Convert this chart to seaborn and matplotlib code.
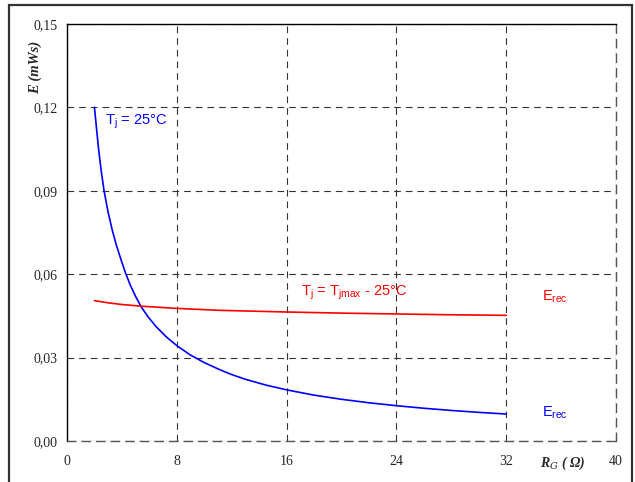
import numpy as np
import pandas as pd
import seaborn as sns
import matplotlib
matplotlib.use("Agg")
import matplotlib.pyplot as plt
from matplotlib.patches import Rectangle

# values
rg_25 = [2.0, 2.3, 2.5, 2.7, 3.0, 3.3, 3.6, 3.93, 4.23, 4.6, 5.0, 5.39, 5.9, 6.5, 7.2, 8.0, 9.0, 10.0,
         11.15, 12.0, 13.0, 14.5, 16.0, 18.0, 20.0, 22.0, 24.0, 26.0, 28.0, 30.0, 32.0]
e_25 = [0.1200, 0.1050, 0.0969, 0.0900, 0.0822, 0.0758, 0.0704, 0.0653, 0.0609, 0.0562, 0.0520, 0.0484,
        0.0447, 0.0411, 0.0376, 0.0343, 0.0309, 0.0282, 0.0256, 0.0239, 0.0222, 0.0201, 0.0184, 0.0165,
        0.0150, 0.01375, 0.0127, 0.01178, 0.01099, 0.0103, 0.0097]
rg_hot = [2.0, 3.0, 4.0, 5.39, 8.0, 11.15, 16.0, 20.0, 24.0, 28.0, 32.0]
e_hot = [0.0505, 0.0497, 0.0491, 0.0485, 0.0477, 0.0470, 0.0464, 0.0460, 0.0457, 0.0454, 0.0452]

x_ticks = [0, 8, 16, 24, 32, 40]
y_ticks = [0.00, 0.03, 0.06, 0.09, 0.12, 0.15]
y_labels = ["0,00", "0,03", "0,06", "0,09", "0,12", "0,15"]

df = pd.concat([
    pd.DataFrame({"rg": rg_25, "e": e_25, "curve": "Tj = 25C"}),
    pd.DataFrame({"rg": rg_hot, "e": e_hot, "curve": "Tj = Tjmax - 25C"}),
])

sns.set_style("white")
plt.rcParams["font.family"] = ["Liberation Sans", "DejaVu Sans"]
plt.rcParams["mathtext.fontset"] = "custom"
plt.rcParams["mathtext.rm"] = "Liberation Sans"
plt.rcParams["mathtext.it"] = "Liberation Sans:italic"

fig = plt.figure(figsize=(6.35, 4.82), dpi=100)
ax = fig.add_axes([67 / 635, 1 - 441 / 482, (616 - 67) / 635, (441 - 24) / 482])

sns.lineplot(data=df, x="rg", y="e", hue="curve", palette=["#0000ff", "#ff0000"],
             linewidth=1.2, legend=False, ax=ax, sort=False, zorder=3)

ax.set_xlim(0, 40)
ax.set_ylim(0, 0.15)
ax.set_xticks(x_ticks)
ax.set_yticks(y_ticks)
ax.set_yticklabels(y_labels)
ax.tick_params(length=0, labelsize=10, pad=7)
ax.tick_params(axis="x", pad=10)
for lab in ax.get_xticklabels() + ax.get_yticklabels():
    lab.set_family("Liberation Serif")
ax.set_xlabel("")
ax.set_ylabel("")

dash = (0, (6, 4.5))
ax.grid(True, color="#333333", linestyle=dash, linewidth=0.8)
ax.spines["top"].set_color("black")
ax.spines["left"].set_color("black")
ax.spines["top"].set_linewidth(1.0)
ax.spines["left"].set_linewidth(1.0)
for side in ["bottom", "right"]:
    ax.spines[side].set_color("#555555")
    ax.spines[side].set_linestyle(dash)
    ax.spines[side].set_linewidth(1.0)

# curve labels
ax.text(2.77, 0.1147, "T$_\\mathrm{j}$ = 25°C", color="#0000ff", fontsize=10.5, va="center")
ax.text(17.05, 0.0534, "T$_\\mathrm{j}$ = T$_\\mathrm{jmax}$ - 25°C", color="#ff0000", fontsize=10.5, va="center")
ax.text(34.6, 0.0520, "E$_\\mathrm{rec}$", color="#ff0000", fontsize=10.5, va="center")
ax.text(34.6, 0.0101, "E$_\\mathrm{rec}$", color="#0000ff", fontsize=10.5, va="center")

# axis titles
fig.text(35 / 635, 1 - 67 / 482, "E (mWs)", rotation=90, ha="center", va="center",
         family="Liberation Serif", weight="bold", style="italic", fontsize=10.5)
fig.text(563 / 635, 1 - 463 / 482, "R$_{G}$ ( Ω)", ha="center", va="center",
         family="Liberation Serif", weight="bold", style="italic", fontsize=10,
         math_fontfamily="dejavuserif")

# outer frame
fig.patches.append(Rectangle((9 / 635, -0.02), (632 - 9) / 635, 1 - 5 / 482 + 0.02,
                             transform=fig.transFigure, fill=False,
                             edgecolor="#333333", linewidth=1.6))

fig.savefig("out.png", dpi=100)
